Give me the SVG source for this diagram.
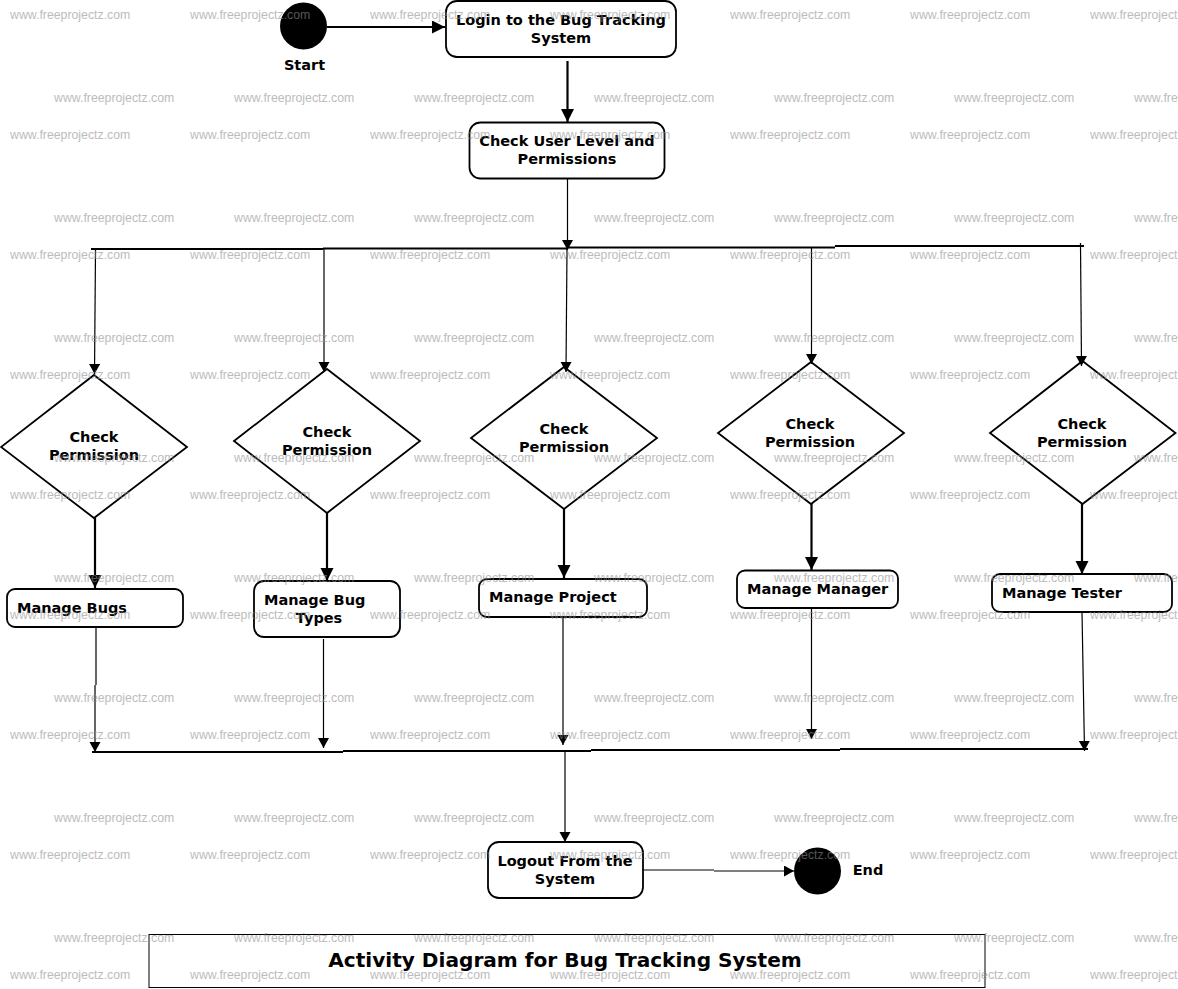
<svg xmlns="http://www.w3.org/2000/svg" xmlns:xlink="http://www.w3.org/1999/xlink" width="1178" height="989" viewBox="0 0 1178 989">
<style>
text{font-family:"DejaVu Sans",sans-serif;font-weight:bold;fill:#000;font-size:14.5px;text-anchor:middle}
.n{fill:#fff;stroke:#000;stroke-width:1.8}
.c{fill:none;stroke:#000;stroke-width:1.2}
.t{fill:none;stroke:#000;stroke-width:2.2}
.h{fill:none;stroke:#000;stroke-width:2}
.w{font-family:"Liberation Sans",sans-serif;font-weight:normal;font-size:12.3px;text-anchor:start;fill:#8f8f8f;opacity:.6}
</style>
<defs>
<marker id="a" markerUnits="userSpaceOnUse" markerWidth="14" markerHeight="14" refX="10" refY="5.500" orient="auto"><path d="M0 0L10 5.500L0 11Z" fill="#000"/></marker>
<marker id="b" markerUnits="userSpaceOnUse" markerWidth="16" markerHeight="16" refX="13" refY="6.500" orient="auto"><path d="M0 0L13 6.500L0 13Z" fill="#000"/></marker>
<g id="wa"><text class="w" x="10">www.freeprojectz.com</text><text class="w" x="190">www.freeprojectz.com</text><text class="w" x="370">www.freeprojectz.com</text><text class="w" x="550">www.freeprojectz.com</text><text class="w" x="730">www.freeprojectz.com</text><text class="w" x="910">www.freeprojectz.com</text><text class="w" x="1090">www.freeprojectz.com</text></g>
<g id="wb"><text class="w" x="54">www.freeprojectz.com</text><text class="w" x="234">www.freeprojectz.com</text><text class="w" x="414">www.freeprojectz.com</text><text class="w" x="594">www.freeprojectz.com</text><text class="w" x="774">www.freeprojectz.com</text><text class="w" x="954">www.freeprojectz.com</text><text class="w" x="1134">www.freeprojectz.com</text></g>
</defs>
<rect width="1178" height="989" fill="#fff"/>
<g id="start"><circle cx="303.500" cy="26" r="23.500" fill="#000"/><text x="304.500" y="70">Start</text></g>
<g id="login"><rect class="n" x="446" y="1" width="230" height="56" rx="11"/><text x="561" y="25">Login to the Bug Tracking</text><text x="561" y="43">System</text></g>
<g id="check-user"><rect class="n" x="469.500" y="122.500" width="195" height="56" rx="11"/><text x="567" y="146">Check User Level and</text><text x="567" y="164">Permissions</text></g>
<g id="d1"><path class="n" d="M94 375L187 447L94 518L1 447Z"/><text x="94" y="442">Check</text><text x="94" y="460">Permission</text></g>
<g id="d2"><path class="n" d="M327 369L420 441L327 513L234 441Z"/><text x="327" y="437">Check</text><text x="327" y="455">Permission</text></g>
<g id="d3"><path class="n" d="M564 367L657 438L564 509L471 438Z"/><text x="564" y="434">Check</text><text x="564" y="452">Permission</text></g>
<g id="d4"><path class="n" d="M811 362L904 433L811 504L718 433Z"/><text x="810" y="429">Check</text><text x="810" y="447">Permission</text></g>
<g id="d5"><path class="n" d="M1082.500 361L1175.500 433L1082.500 504L990 433Z"/><text x="1082" y="429">Check</text><text x="1082" y="447">Permission</text></g>
<g id="manage-bugs"><rect class="n" x="7" y="589" width="176" height="38" rx="8"/><text x="17" y="613" style="text-anchor:start">Manage Bugs</text></g>
<g id="manage-bug-types"><rect class="n" x="254" y="581" width="146" height="56" rx="10"/><text x="264" y="605" style="text-anchor:start">Manage Bug</text><text x="319" y="623">Types</text></g>
<g id="manage-project"><rect class="n" x="479" y="579" width="168" height="38" rx="8"/><text x="489" y="602" style="text-anchor:start">Manage Project</text></g>
<g id="manage-manager"><rect class="n" x="737" y="570.500" width="161" height="37.500" rx="8"/><text x="747" y="594" style="text-anchor:start">Manage Manager</text></g>
<g id="manage-tester"><rect class="n" x="992" y="574" width="180" height="38" rx="8"/><text x="1002" y="598" style="text-anchor:start">Manage Tester</text></g>
<g id="logout"><rect class="n" x="488" y="842" width="155" height="56" rx="11"/><text x="565" y="866">Logout From the</text><text x="565" y="884">System</text></g>
<g id="end"><circle cx="817.500" cy="871" r="23.500" fill="#000"/><text x="868" y="875">End</text></g>
<g id="title"><rect x="149" y="934.500" width="836" height="53" fill="#fff" stroke="#000" stroke-width="1"/><text x="565" y="967" style="font-size:20.100px">Activity Diagram for Bug Tracking System</text></g>
<g id="connectors">
<path class="h" d="M327 27H445" marker-end="url(#b)"/>
<path class="t" d="M567.500 61V122" marker-end="url(#b)"/>
<path class="c" d="M567.500 179V250" marker-end="url(#a)"/>
<path class="h" d="M91 249H323M323 248.500H568M568 247.500H835M835 246H1084"/>
<path class="c" d="M95.500 250L94.500 374" marker-end="url(#a)"/>
<path class="c" d="M324 249V372" marker-end="url(#a)"/>
<path class="c" d="M567 249L566 372" marker-end="url(#a)"/>
<path class="c" d="M811.500 247V364" marker-end="url(#a)"/>
<path class="c" d="M1080.500 243L1081.500 366" marker-end="url(#a)"/>
<path class="t" d="M95 518V588" marker-end="url(#b)"/>
<path class="t" d="M327 513V581" marker-end="url(#b)"/>
<path class="t" d="M564 509V578" marker-end="url(#b)"/>
<path class="t" d="M811.500 504V570" marker-end="url(#b)"/>
<path class="t" d="M1082 504V574" marker-end="url(#b)"/>
<path class="c" d="M96 627V685M95 685V752" marker-end="url(#a)"/>
<path class="c" d="M323.500 639V748" marker-end="url(#a)"/>
<path class="c" d="M563 617V745" marker-end="url(#a)"/>
<path class="c" d="M811.500 608V739" marker-end="url(#a)"/>
<path class="c" d="M1082 612L1084.500 751" marker-end="url(#a)"/>
<path class="h" d="M92 752H343M343 751H591M591 750H840M840 749H1088"/>
<path class="c" d="M565 751V842" marker-end="url(#a)"/>
<path class="c" d="M643 870H714M714 871H794" marker-end="url(#a)"/>
</g>
<g id="watermark">
<use xlink:href="#wa" y="19"/><use xlink:href="#wb" y="102"/><use xlink:href="#wa" y="139"/><use xlink:href="#wb" y="222"/><use xlink:href="#wa" y="259"/><use xlink:href="#wb" y="342"/><use xlink:href="#wa" y="379"/><use xlink:href="#wb" y="462"/><use xlink:href="#wa" y="499"/><use xlink:href="#wb" y="582"/><use xlink:href="#wa" y="619"/><use xlink:href="#wb" y="702"/><use xlink:href="#wa" y="739"/><use xlink:href="#wb" y="822"/><use xlink:href="#wa" y="859"/><use xlink:href="#wb" y="942"/><use xlink:href="#wa" y="979"/>
</g>
</svg>
